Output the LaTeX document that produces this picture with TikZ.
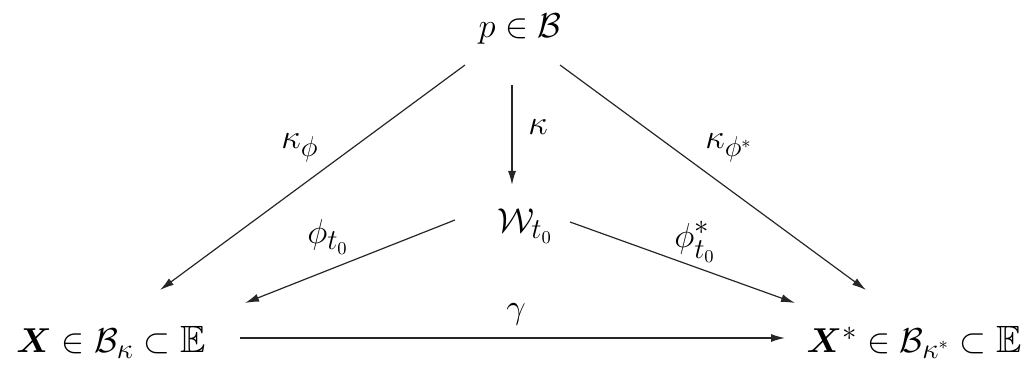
\documentclass[tikz,border=0pt]{standalone}
\usepackage{amsmath,amssymb}
\usetikzlibrary{calc,arrows.meta}
\begin{document}
\begin{tikzpicture}[x=0.5pt,y=-0.5pt,
  lbl/.style={inner sep=0pt, font=\fontsize{19}{23}\selectfont},
  obj/.style={inner sep=0pt, anchor=base, font=\fontsize{19}{23}\selectfont},
  arr/.style={-{Latex[length=7pt,width=4pt]}, line width=0.6pt, black!85}]
\useasboundingbox (0,0) rectangle (1033,367);
\node[obj] (p) at (520,38) {$p \in \mathcal{B}$};
\node[obj] (W) at (525,233) {$\mathcal{W}_{t_0}$};
\node[obj] (X) at (111,353) {$\boldsymbol{X} \in \mathcal{B}_{\kappa} \subset \mathbb{E}$};
\node[obj] (Xs) at (914,353) {$\boldsymbol{X}^{*} \in \mathcal{B}_{\kappa^{*}} \subset \mathbb{E}$};
\draw[arr] ($(p.base)+(-55,27)$) -- ($(X.base)+(49,-63)$);
\draw[arr] ($(p.base)+(-8,47)$) -- ($(W.base)+(-13,-48)$);
\draw[arr] ($(p.base)+(40,27)$) -- ($(Xs.base)+(-48,-63)$);
\draw[arr] ($(W.base)+(-70,-13)$) -- ($(X.base)+(134,-50)$);
\draw[arr] ($(W.base)+(45,-11)$) -- ($(Xs.base)+(-119,-50)$);
\draw[arr] ($(X.base)+(129,-15)$) -- ($(Xs.base)+(-129,-15)$);
\node[lbl] (l1) at (300,148) {$\kappa_{\phi}$};
\node[lbl] (l2) at (729,148) {$\kappa_{\phi^{*}}$};
\node[lbl] (l3) at (538,127) {$\kappa$};
\node[lbl] (l4) at (328,237) {$\phi_{t_0}$};
\node[lbl] (l5) at (695,242) {$\phi^{*}_{t_0}$};
\node[lbl] (l6) at (516,314) {$\gamma$};
\end{tikzpicture}
\end{document}
